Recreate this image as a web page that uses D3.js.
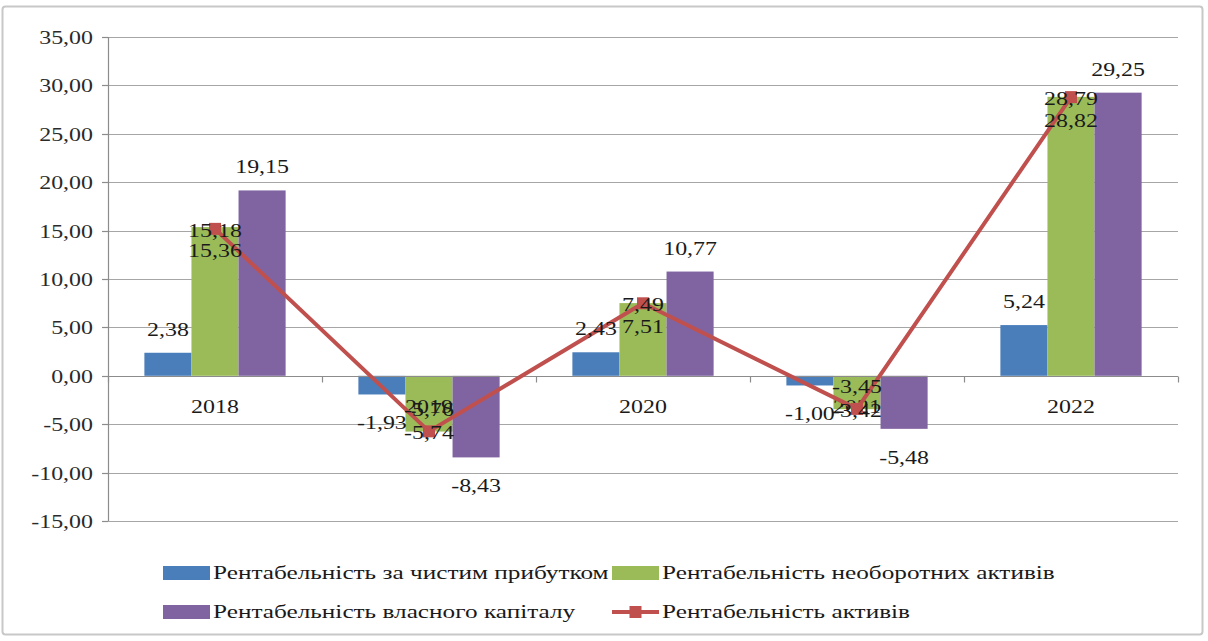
<!DOCTYPE html>
<html>
<head>
<meta charset="utf-8">
<script src="https://cdn.jsdelivr.net/npm/d3@7"></script>
<style>
  html, body { margin: 0; padding: 0; background: #fff; }
  svg { display: block; }
</style>
</head>
<body>
<svg id="chart" width="1208" height="641"></svg>
<script>
// Profitability indicators by year, %
const years = ["2018", "2019", "2020", "2021", "2022"];
const netProfitReturn = [2.38, -1.93, 2.43, -1.00, 5.24];
const fixedAssetsReturn = [15.36, -5.76, 7.51, -3.45, 28.82];
const equityReturn = [19.15, -8.43, 10.77, -5.48, 29.25];
const assetsReturn = [15.18, -5.74, 7.49, -3.42, 28.79];
const yTicks = [-15, -10, -5, 0, 5, 10, 15, 20, 25, 30, 35];

const seriesNames = [
  "Рентабельність за чистим прибутком",
  "Рентабельність необоротних активів",
  "Рентабельність власного капіталу",
  "Рентабельність активів"
];
const colors = ["#4A7EBB", "#9BBB59", "#8064A2", "#C0504D"];
const barSeries = [netProfitReturn, fixedAssetsReturn, equityReturn];

const svg = d3.select("#chart");
const fmt = v => d3.format(".2f")(v).replace(".", ",").replace("−", "-");
const SX = 1.33; // horizontal stretch of the typeface
const FONT = "'Liberation Serif', 'Times New Roman', serif";

// outer frame
svg.append("rect")
  .attr("x", 2.5).attr("y", 6.5).attr("width", 1200).attr("height", 628)
  .attr("fill", "#fff").attr("stroke", "#c8c8c8").attr("stroke-width", 2).attr("rx", 3);

const left = 108, right = 1178;
const y = d3.scaleLinear().domain([-15, 35]).range([521, 37]);
const x0 = d3.scaleBand().domain(years).range([left, right]).paddingInner(0).paddingOuter(0);
const bw = x0.bandwidth();
const x1 = d3.scaleBand().domain([0, 1, 2]).range([bw * 0.17, bw * 0.83]).padding(0);

function label(g, txt, x, yy, anchor, fill, size) {
  return g.append("text")
    .attr("transform", `translate(${x},${yy}) scale(${SX},1)`)
    .attr("text-anchor", anchor)
    .attr("font-family", FONT)
    .attr("font-size", size || 18)
    .attr("fill", fill || "#1a1a1a")
    .text(txt);
}

// horizontal gridlines
svg.append("g").selectAll("line").data(yTicks.filter(t => t !== 0)).join("line")
  .attr("x1", left).attr("x2", right)
  .attr("y1", d => Math.round(y(d)) + 0.5).attr("y2", d => Math.round(y(d)) + 0.5)
  .attr("stroke", "#a6a6a6").attr("stroke-width", 1.2);

// bars
const gBars = svg.append("g");
barSeries.forEach((vals, s) => {
  gBars.selectAll(null).data(vals).join("rect")
    .attr("x", (d, i) => x0(years[i]) + x1(s))
    .attr("width", x1.bandwidth())
    .attr("y", d => y(Math.max(0, d)))
    .attr("height", d => Math.abs(y(d) - y(0)))
    .attr("fill", colors[s]);
});

// y axis with ticks on the left
const yAxis = svg.append("g");
yAxis.append("line").attr("x1", left + 0.5).attr("x2", left + 0.5)
  .attr("y1", y(35)).attr("y2", y(-15)).attr("stroke", "#8c8c8c").attr("stroke-width", 1.2);
yTicks.forEach(t => {
  const yy = Math.round(y(t)) + 0.5;
  yAxis.append("line").attr("x1", left - 6).attr("x2", left).attr("y1", yy).attr("y2", yy)
    .attr("stroke", "#8c8c8c").attr("stroke-width", 1.2);
  label(yAxis, fmt(t), 93, yy + 6, "end", "#2a2a2a");
});

// category axis on zero line
const xAxis = svg.append("g");
const zy = Math.round(y(0)) + 0.5;
xAxis.append("line").attr("x1", left).attr("x2", right).attr("y1", zy).attr("y2", zy)
  .attr("stroke", "#8c8c8c").attr("stroke-width", 1.2);
d3.range(years.length + 1).forEach(i => {
  const xx = Math.round(left + i * bw) + 0.5;
  xAxis.append("line").attr("x1", xx).attr("x2", xx).attr("y1", zy).attr("y2", zy + 6)
    .attr("stroke", "#8c8c8c").attr("stroke-width", 1.2);
});
years.forEach(yr => label(xAxis, yr, x0(yr) + bw / 2, 413, "middle", "#1a1a1a"));

// assets return line with square markers
const cx = (d, i) => x0(years[i]) + bw / 2;
const line = d3.line().x(cx).y(d => y(d));
svg.append("path").datum(assetsReturn)
  .attr("d", line).attr("fill", "none")
  .attr("stroke", colors[3]).attr("stroke-width", 4).attr("stroke-linejoin", "round");
svg.append("g").selectAll("rect").data(assetsReturn).join("rect")
  .attr("x", (d, i) => cx(d, i) - 6).attr("y", d => y(d) - 6)
  .attr("width", 12).attr("height", 12).attr("fill", colors[3]);

// value labels
const gLab = svg.append("g");
[0, 2].forEach(s => {
  barSeries[s].forEach((v, i) => {
    const xx = x0(years[i]) + x1(s) + x1.bandwidth() / 2;
    const cy = v >= 0 ? y(v) - 23 : y(v) + 29;
    label(gLab, fmt(v), xx, cy + 6, "middle");
  });
});
fixedAssetsReturn.forEach((v, i) => {
  const xx = x0(years[i]) + x1(1) + x1.bandwidth() / 2;
  const cy = v >= 0 ? y(v) + 24 : y(v) - 22;
  label(gLab, fmt(v), xx, cy + 6, "middle", "#1a1a1a");
});
assetsReturn.forEach((v, i) => {
  label(gLab, fmt(v), cx(v, i), y(v) + 2 + 6, "middle", "#1a1a1a");
});

// legend
const leg = svg.append("g");
const legItems = [
  { x: 163, y: 573, s: 0 },
  { x: 612, y: 573, s: 1 },
  { x: 163, y: 612, s: 2 },
  { x: 612, y: 612, s: 3 }
];
legItems.forEach(it => {
  if (it.s < 3) {
    leg.append("rect").attr("x", it.x).attr("y", it.y - 7).attr("width", 47).attr("height", 14)
      .attr("fill", colors[it.s]);
  } else {
    leg.append("line").attr("x1", it.x).attr("x2", it.x + 47).attr("y1", it.y).attr("y2", it.y)
      .attr("stroke", colors[3]).attr("stroke-width", 4);
    leg.append("rect").attr("x", it.x + 23.5 - 6).attr("y", it.y - 6)
      .attr("width", 12).attr("height", 12).attr("fill", colors[3]);
  }
  label(leg, seriesNames[it.s], it.x + 50, it.y + 6, "start", "#1a1a1a", 19);
});
</script>
</body>
</html>
